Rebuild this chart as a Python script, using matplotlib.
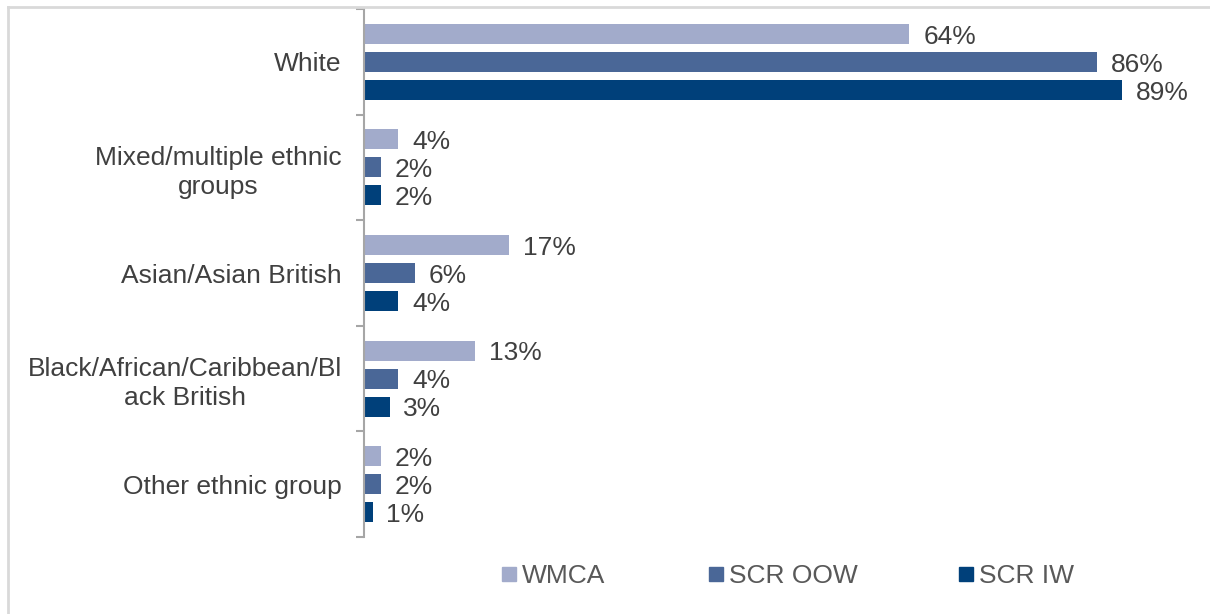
import matplotlib.pyplot as plt
from matplotlib.lines import Line2D

plt.rcParams['font.family'] = ['Liberation Sans', 'DejaVu Sans']

categories = ['White', 'Mixed/multiple ethnic\ngroups', 'Asian/Asian British',
              'Black/African/Caribbean/Bl\nack British', 'Other ethnic group']
series_names = ['WMCA', 'SCR OOW', 'SCR IW']
wmca = [64, 4, 17, 13, 2]
scr_oow = [86, 2, 6, 4, 2]
scr_iw = [89, 2, 4, 3, 1]
colors = ['#a2abcb', '#4a6797', '#00407a']

text_col = '#404040'
fs = 19

fig = plt.figure(figsize=(12.1, 6.14), dpi=100)
ax = fig.add_axes([364 / 1210, 1 - 537 / 614, 836 / 1210, 528 / 614])

offsets = [-0.265, 0.0, 0.265]
for vals, off, col, name in zip([wmca, scr_oow, scr_iw], offsets, colors, series_names):
    ys = [i + off for i in range(len(categories))]
    ax.barh(ys, vals, height=0.19, color=col, label=name)
    for y, v in zip(ys, vals):
        ax.annotate(f'{v}%', (v, y), xytext=(10, -2), textcoords='offset points',
                    va='center', ha='left', fontsize=fs, color=text_col)

ax.set_xlim(0, 98.1)
ax.set_ylim(len(categories) - 0.5, -0.5)

ax.set_yticks(range(len(categories)))
ax.set_yticklabels(categories, fontsize=fs, color=text_col, multialignment='center',
                   linespacing=1.25)
ax.tick_params(axis='y', which='major', length=0, pad=16)
ax.set_yticks([i - 0.5 for i in range(len(categories) + 1)], minor=True)
ax.tick_params(axis='y', which='minor', length=6, width=1.5, color='#a6a6a6', direction='out')
ax.set_xticks([])

for s in ['top', 'right', 'bottom']:
    ax.spines[s].set_visible(False)
ax.spines['left'].set_color('#a6a6a6')
ax.spines['left'].set_linewidth(1.5)

# legend entries placed individually along the bottom
legend_x = [497 / 1210, 704 / 1210, 954 / 1210]
for name, col, lx in zip(series_names, colors, legend_x):
    h = Line2D([], [], marker='s', linestyle='none', markersize=10, color=col)
    fig.legend(handles=[h], labels=[name], loc='center left', bbox_to_anchor=(lx, 1 - 576 / 614),
               frameon=False, fontsize=fs, labelcolor='#595959', handletextpad=0.05,
               handlelength=0.9, borderpad=0, borderaxespad=0)

# outer frame: top and left edges only
fig.add_artist(Line2D([8 / 1210, 8 / 1210], [0, 1 - 7 / 614], color='#d9d9d9', lw=2,
                      transform=fig.transFigure))
fig.add_artist(Line2D([8 / 1210, 1], [1 - 7 / 614, 1 - 7 / 614], color='#d9d9d9', lw=2,
                      transform=fig.transFigure))

fig.savefig('out.png', dpi=100)
